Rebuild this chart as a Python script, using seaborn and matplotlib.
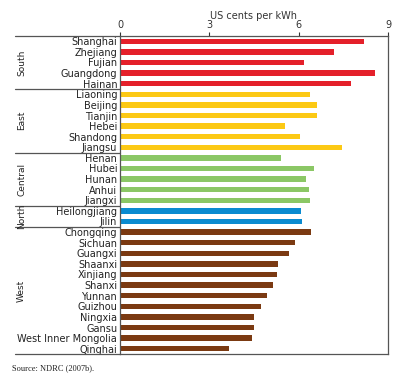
import pandas as pd
import matplotlib.pyplot as plt
import seaborn as sns
from matplotlib.transforms import blended_transform_factory

# provinces grouped by region, values in US cents per kWh
regions = ['South', 'East', 'Central', 'North', 'West']
south = ['Shanghai', 'Zhejiang', 'Fujian', 'Guangdong', 'Hainan']
south_vals = [8.19, 7.17, 6.17, 8.58, 7.75]
east = ['Liaoning', 'Beijing', 'Tianjin', 'Hebei', 'Shandong', 'Jiangsu']
east_vals = [6.39, 6.60, 6.60, 5.55, 6.03, 7.44]
central = ['Henan', 'Hubei', 'Hunan', 'Anhui', 'Jiangxi']
central_vals = [5.40, 6.51, 6.24, 6.34, 6.39]
north = ['Heilongjiang', 'Jilin']
north_vals = [6.07, 6.11]
west = ['Chongqing', 'Sichuan', 'Guangxi', 'Shaanxi', 'Xinjiang', 'Shanxi',
        'Yunnan', 'Guizhou', 'Ningxia', 'Gansu', 'West Inner Mongolia', 'Qinghai']
west_vals = [6.40, 5.87, 5.67, 5.30, 5.27, 5.13, 4.94, 4.75, 4.51, 4.49, 4.44, 3.67]

groups = [south, east, central, north, west]
group_vals = [south_vals, east_vals, central_vals, north_vals, west_vals]
colors = {'South': '#e4202a', 'East': '#fcc914', 'Central': '#8bc765',
          'North': '#0a8bd0', 'West': '#7b3a12'}

rows = []
for reg, names, vals in zip(regions, groups, group_vals):
    for n, v in zip(names, vals):
        rows.append({'province': n, 'value': v, 'region': reg})
df = pd.DataFrame(rows)

sns.set_style('white')
plt.rcParams['font.family'] = ['DejaVu Sans']

fig = plt.figure(figsize=(4.08, 3.83), dpi=100)
ax = fig.add_axes([120 / 408, 1 - 354 / 383, 268 / 408, 318 / 383])

sns.barplot(data=df, x='value', y='province', hue='region', palette=colors,
            dodge=False, width=0.5, legend=False, ax=ax, edgecolor='none',
            saturation=1)

ax.set_xlim(0, 9)
ax.set_ylim(len(df) - 0.5, -0.5)
ax.set_xticks([0, 3, 6, 9])
ax.xaxis.tick_top()
ax.xaxis.set_label_position('top')
ax.tick_params(axis='x', length=3, width=0.8, pad=1, labelsize=7, colors='#333333')
ax.tick_params(axis='y', length=0, pad=2, labelsize=7, colors='#222222')
ax.set_xlabel('US cents per kWh', fontsize=7, color='#333333', labelpad=1)
ax.set_ylabel('')
for s in ax.spines.values():
    s.set_color('#555555')
    s.set_linewidth(0.9)

# region separators and labels
trans = blended_transform_factory(ax.transAxes, ax.transData)
x0 = -105 / 268
start = 0
for reg, names in zip(regions, groups):
    top = start - 0.5
    bottom = start + len(names) - 0.5
    ax.plot([x0, 0], [top, top], transform=trans, color='#555555', lw=0.9, clip_on=False)
    ax.text(x0 + 0.025, (top + bottom) / 2, reg, transform=trans, rotation=90,
            ha='center', va='center', fontsize=6.5, color='#222222')
    start += len(names)
ax.plot([x0, 0], [start - 0.5, start - 0.5], transform=trans, color='#555555',
        lw=0.9, clip_on=False)

fig.text(12 / 408, 1 - 368 / 383, 'Source: NDRC (2007b).', fontsize=6,
         family='Liberation Serif', va='center', color='#222222')

fig.savefig('out.png', dpi=100)
